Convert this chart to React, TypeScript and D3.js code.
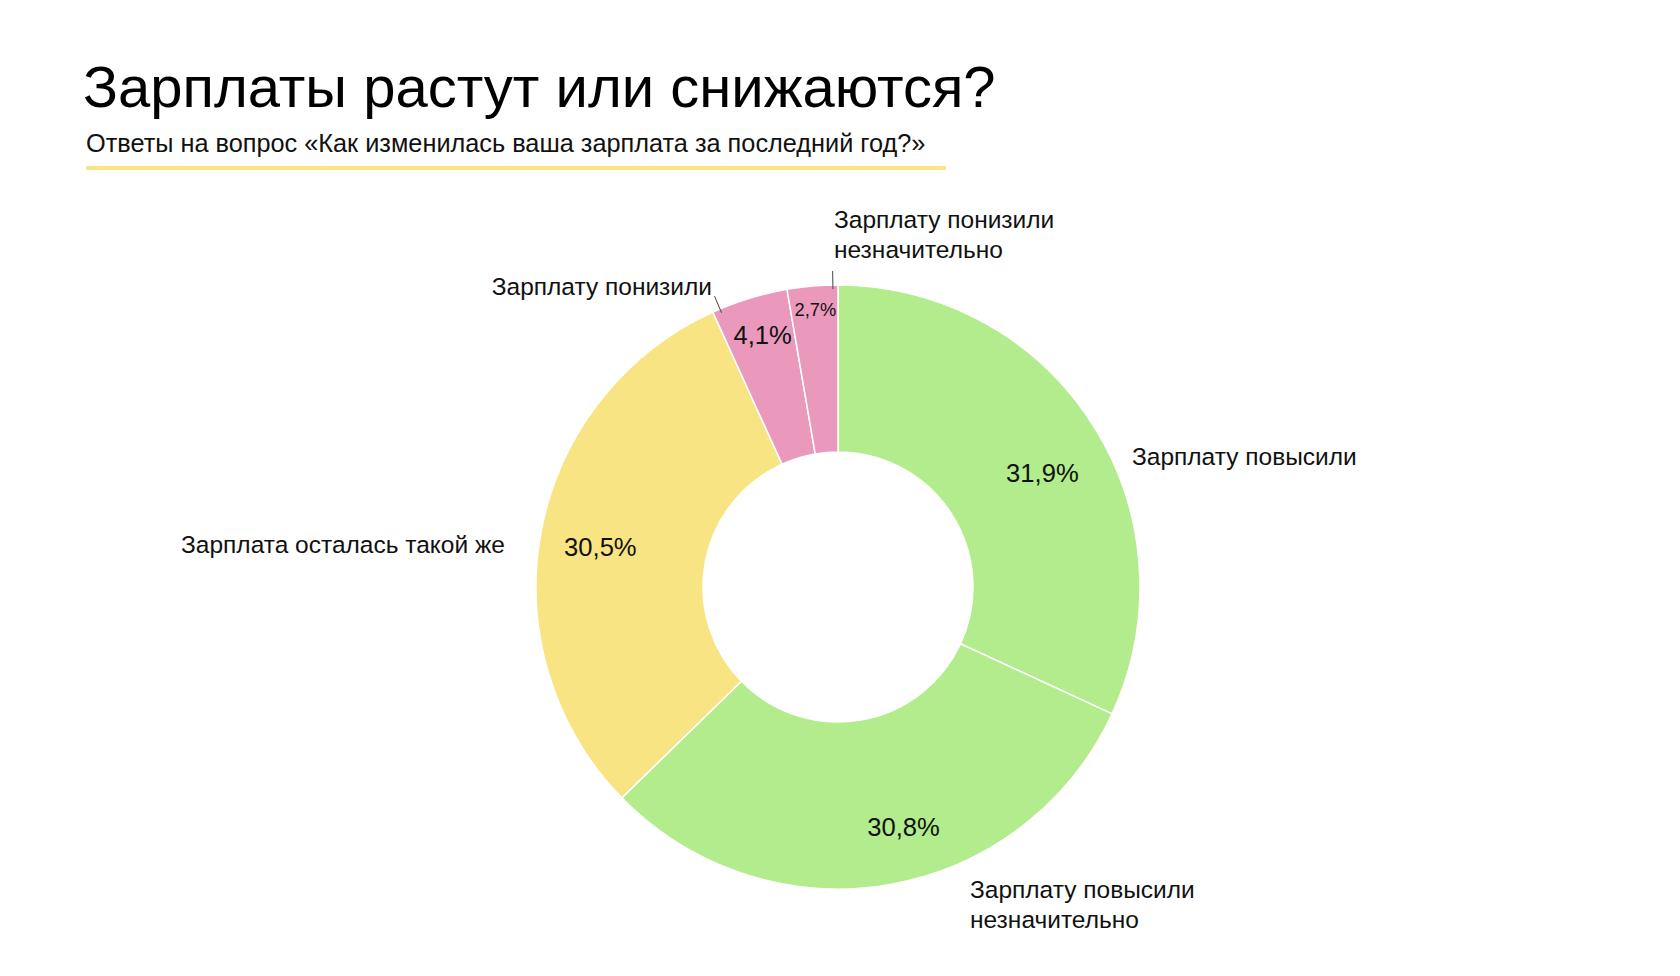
import * as d3 from 'd3';

const categories = [
  'Зарплату повысили',
  'Зарплату повысили незначительно',
  'Зарплата осталась такой же',
  'Зарплату понизили',
  'Зарплату понизили незначительно',
];
const values = [31.9, 30.8, 30.5, 4.1, 2.7];
const valueLabels = ['31,9%', '30,8%', '30,5%', '4,1%', '2,7%'];

const title = 'Зарплаты растут или снижаются?';
const subtitle = 'Ответы на вопрос «Как изменилась ваша зарплата за последний год?»';

// styling / layout, per slice
const colors = ['#b2ec8c', '#b2ec8c', '#f8e482', '#eb98bd', '#eb98bd'];
const pctRadius = [234, 249, 241, 263, 278];
const pctAt = [0.53, 0.45, 0.49, 0.53, 0.52];
const pctSize = [25.6, 25.6, 25.6, 25.6, 18.3];
// category label offsets from centre: [dx, dy, anchor]
const namePos: [number, number, string][] = [
  [294, -122, 'start'],
  [132, 311, 'start'],
  [-333, -34, 'end'],
  [-126, -292, 'end'],
  [-4, -359, 'start'],
];
const twoLine = [false, true, false, false, true];
// leader lines only for the small slices (fraction within slice)
const leaderAt: (number | null)[] = [null, null, null, 0.1, 0.9];

const W = 1680;
const H = 976;
const cx = 838;
const cy = 587;
const outerR = 302;
const innerR = 135;
const font = '"Liberation Sans", Arial, Helvetica, sans-serif';

export default function App() {
  const pie = d3.pie<number>().sort(null).value(d => d);
  const arcs = pie(values);
  const arc = d3.arc<d3.PieArcDatum<number>>().innerRadius(innerR).outerRadius(outerR);

  const polar = (a: number, r: number) => [Math.sin(a) * r, -Math.cos(a) * r];

  return (
    <svg
      width={W}
      height={H}
      style={{ position: 'absolute', left: 0, top: 0, display: 'block', background: '#fff' }}
      fontFamily={font}
    >
      <text x={83} y={107} fontSize={58} fill="#000">{title}</text>
      <text x={86} y={152} fontSize={25.3} fill="#111">{subtitle}</text>
      <rect x={86} y={166} width={860} height={4} fill="#f8e482" />

      <g transform={`translate(${cx},${cy})`}>
        {arcs.map((a, i) => (
          <path key={i} d={arc(a) || ''} fill={colors[i]} stroke="#fff" strokeWidth={1.5} />
        ))}
        {arcs.map((a, i) => {
          const ang = a.startAngle + (a.endAngle - a.startAngle) * pctAt[i];
          const [x, y] = polar(ang, pctRadius[i]);
          return (
            <text key={i} x={x} y={y} fontSize={pctSize[i]} textAnchor="middle" dominantBaseline="central" fill="#111">
              {valueLabels[i]}
            </text>
          );
        })}
        {arcs.map((a, i) => {
          const f = leaderAt[i];
          if (f == null) return null;
          const ang = a.startAngle + (a.endAngle - a.startAngle) * f;
          const [x1, y1] = polar(ang, outerR - 4);
          const [x2, y2] = polar(ang, outerR + 14);
          return <line key={i} x1={x1} y1={y1} x2={x2} y2={y2} stroke="#444" strokeWidth={1} />;
        })}
        {categories.map((c, i) => {
          const [dx, dy, anchor] = namePos[i];
          const words = c.split(' ');
          const ls = twoLine[i] ? [words.slice(0, 2).join(' '), words.slice(2).join(' ')] : [c];
          return (
            <text key={i} x={dx} y={dy} fontSize={24.5} textAnchor={anchor} fill="#111">
              {ls.map((l, j) => (
                <tspan key={j} x={dx} dy={j === 0 ? 0 : 30}>{l}</tspan>
              ))}
            </text>
          );
        })}
      </g>
    </svg>
  );
}
